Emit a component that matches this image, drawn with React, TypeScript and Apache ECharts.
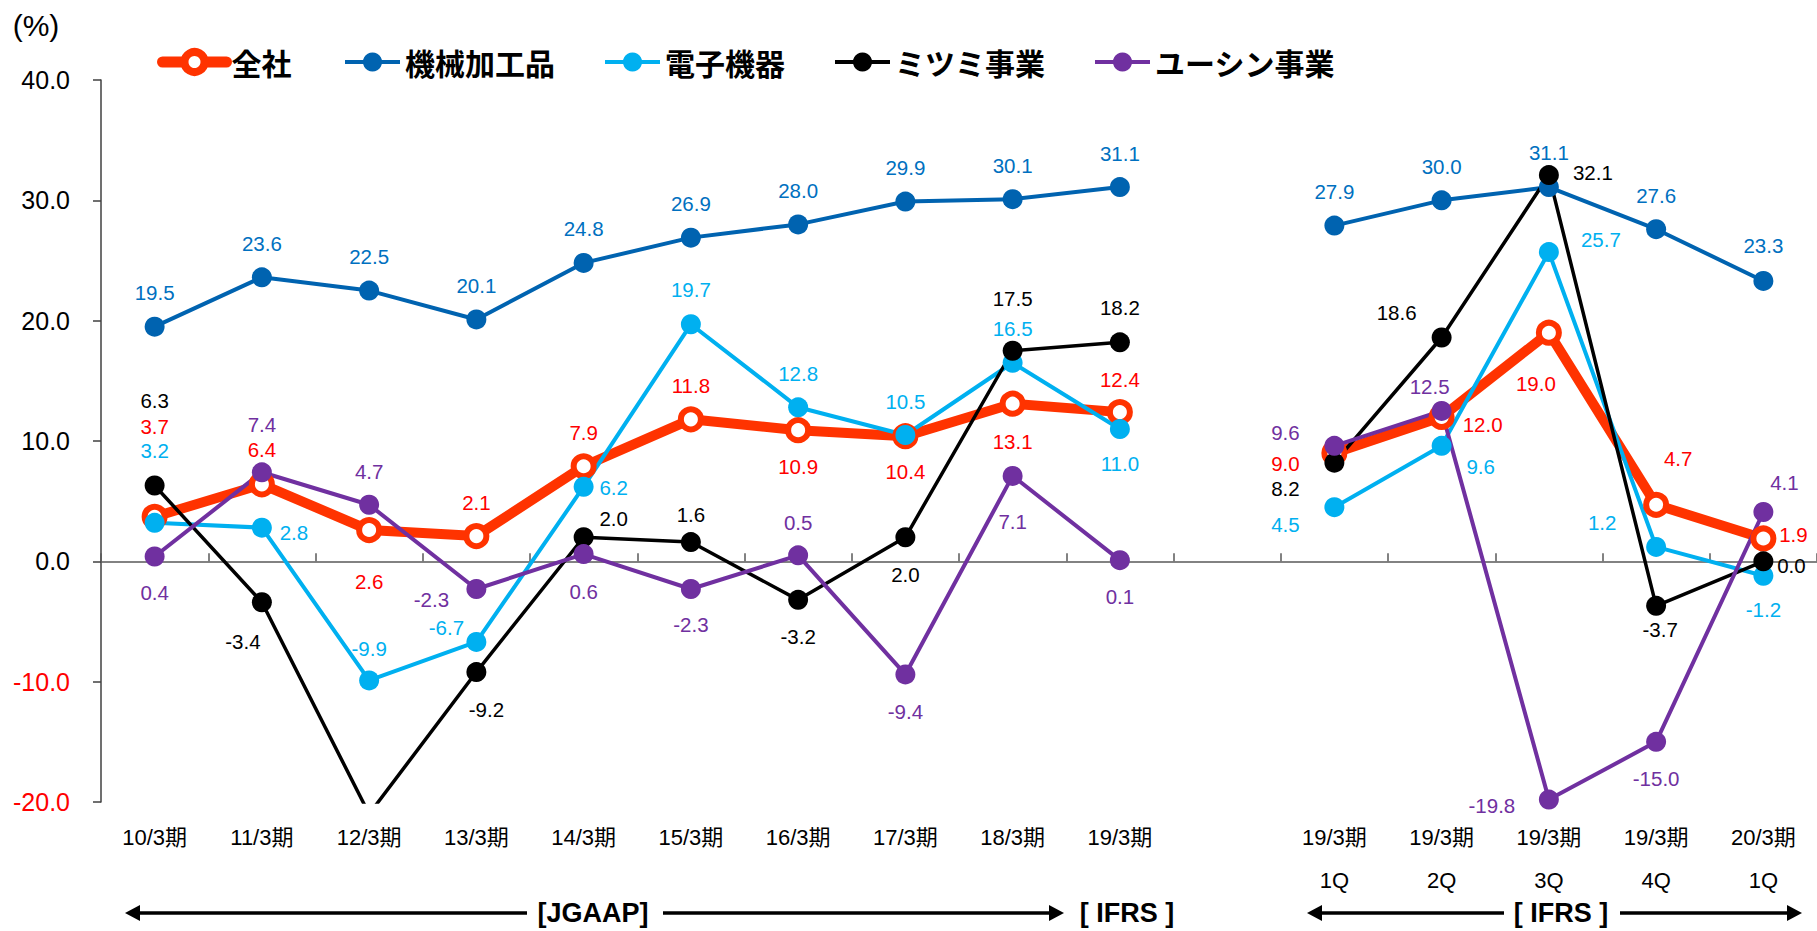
import React, { useEffect, useRef } from 'react';
import * as echarts from 'echarts';

const categories = [
  '10/3期', '11/3期', '12/3期', '13/3期', '14/3期', '15/3期', '16/3期', '17/3期', '18/3期', '19/3期',
  '',
  '19/3期\n1Q', '19/3期\n2Q', '19/3期\n3Q', '19/3期\n4Q', '20/3期\n1Q',
];

const seriesNames = ['全社', '機械加工品', '電子機器', 'ミツミ事業', 'ユーシン事業'];

const zensha = [3.7, 6.4, 2.6, 2.1, 7.9, 11.8, 10.9, 10.4, 13.1, 12.4, null, 9.0, 12.0, 19.0, 4.7, 1.9];
const kikai = [19.5, 23.6, 22.5, 20.1, 24.8, 26.9, 28.0, 29.9, 30.1, 31.1, null, 27.9, 30.0, 31.1, 27.6, 23.3];
const denshi = [3.2, 2.8, -9.9, -6.7, 6.2, 19.7, 12.8, 10.5, 16.5, 11.0, null, 4.5, 9.6, 25.7, 1.2, -1.2];
const mitsumi = [6.3, -3.4, -21.0, -9.2, 2.0, 1.6, -3.2, 2.0, 17.5, 18.2, null, 8.2, 18.6, 32.1, -3.7, 0.0];
const ushin = [0.4, 7.4, 4.7, -2.3, 0.6, -2.3, 0.5, -9.4, 7.1, 0.1, null, 9.6, 12.5, -19.8, -15.0, 4.1];

const yMin = -20;
const yMax = 40;
const yInterval = 10;

// label offsets (px) from each marker centre; null = no label
type Off = [number, number] | null;
const zenshaLabelOff: Off[] = [
  [0, -90], [0, -35], [0, 51], [0, -34], [0, -34], [0, -34], [0, 36], [0, 35], [0, 38], [0, -33],
  null, [-49, 10], [41, 8], [-13, 51], [22, -46], [30, -4],
];
const kikaiLabelOff: Off[] = [
  [0, -34], [0, -34], [0, -34], [0, -34], [0, -34], [0, -34], [0, -34], [0, -34], [0, -34], [0, -34],
  null, [0, -34], [0, -34], [0, -35], [0, -34], [0, -35],
];
const denshiLabelOff: Off[] = [
  [0, -72], [32, 5], [0, -32], [-30, -14], [30, 1], [0, -35], [0, -34], [0, -33], [0, -34], [0, 35],
  null, [-49, 17], [39, 21], [52, -13], [-54, -24], [0, 34],
];
const mitsumiLabelOff: Off[] = [
  [0, -85], [-19, 39], null, [10, 37], [30, -19], [0, -28], [0, 37], [0, 37], [0, -52], [0, -35],
  null, [-49, 26], [-45, -25], [44, -3], [4, 24], [28, 4],
];
const ushinLabelOff: Off[] = [
  [0, 36], [0, -48], [0, -33], [-45, 10], [0, 37], [0, 35], [0, -33], [0, 37], [0, 46], [0, 36],
  null, [-49, -13], [-12, -24], [-57, 6], [0, 37], [21, -29],
];

const NUM_FONT = '"Liberation Sans", Arial, "Noto Sans CJK JP", sans-serif';
const CJK_FONT = '"Noto Sans CJK JP", "Liberation Sans", sans-serif';

function buildData(values: (number | null)[], offs: Off[]) {
  return values.map((v, i) => {
    if (v === null) return '-';
    const o = offs[i];
    return o ? { value: v, label: { offset: o } } : { value: v, label: { show: false } };
  });
}

function lineSeries(
  name: string,
  values: (number | null)[],
  offs: Off[],
  lineColor: string,
  labelColor: string,
  lineWidth: number,
) {
  return {
    type: 'line',
    name,
    data: buildData(values, offs),
    symbol: 'circle',
    symbolSize: 20,
    clip: true,
    connectNulls: false,
    lineStyle: { color: lineColor, width: lineWidth },
    itemStyle: { color: lineColor },
    label: {
      show: true,
      position: 'inside',
      color: labelColor,
      fontSize: 20.5,
      fontFamily: NUM_FONT,
      formatter: (p: any) => Number(p.value).toFixed(1),
    },
    emphasis: { disabled: true },
  };
}

function arrowHead(tipX: number, y: number, dir: number) {
  return {
    type: 'polygon',
    shape: { points: [[tipX, y], [tipX - dir * 15, y - 8], [tipX - dir * 15, y + 8]] },
    style: { fill: '#000' },
  };
}

function hLine(x1: number, x2: number, y: number) {
  return {
    type: 'line',
    shape: { x1, y1: y, x2, y2: y },
    style: { stroke: '#000', lineWidth: 3.5 },
  };
}

function bottomText(text: string, x: number, y: number) {
  return {
    type: 'text',
    x,
    y,
    style: {
      text,
      fill: '#000',
      fontSize: 27,
      fontWeight: 'bold',
      fontFamily: NUM_FONT,
      align: 'center',
      verticalAlign: 'middle',
    },
  };
}

export default function App() {
  const ref = useRef<HTMLDivElement>(null);

  useEffect(() => {
    if (!ref.current) return;
    const chart = echarts.init(ref.current, null, { renderer: 'svg' });
    const rowY = 913;

    const option: any = {
      animation: false,
      backgroundColor: '#ffffff',
      grid: { left: 101, right: 0, top: 80, bottom: 129, containLabel: false },
      legend: [
        {
          data: [seriesNames[0]],
          left: 157,
          top: 46,
          padding: 0,
          itemWidth: 64,
          itemHeight: 25,
          itemStyle: { color: '#ffffff', borderColor: '#FF3300', borderWidth: 8 },
          lineStyle: { color: '#FF3300', width: 11, cap: 'round' },
          textStyle: { fontSize: 30, fontWeight: 'bold', fontFamily: CJK_FONT, color: '#000', lineHeight: 32 },
          selectedMode: false,
        },
        {
          data: seriesNames.slice(1),
          left: 343,
          top: 46,
          padding: 0,
          itemWidth: 55,
          itemHeight: 24,
          itemGap: 48,
          itemStyle: { borderWidth: 0 },
          lineStyle: { width: 4 },
          textStyle: { fontSize: 30, fontWeight: 'bold', fontFamily: CJK_FONT, color: '#000', lineHeight: 32 },
          selectedMode: false,
        },
      ],
      xAxis: [
        {
          type: 'category',
          data: categories,
          position: 'bottom',
          boundaryGap: true,
          axisLine: { show: true, onZero: true, lineStyle: { color: '#595959', width: 1.5 } },
          axisTick: { show: true, inside: true, length: 8, interval: 0, lineStyle: { color: '#595959', width: 1.5 } },
          axisLabel: { show: false },
          splitLine: { show: false },
        },
        {
          type: 'category',
          data: categories,
          position: 'bottom',
          boundaryGap: true,
          axisLine: { show: false, onZero: false },
          axisTick: { show: false },
          axisLabel: {
            show: true,
            interval: 0,
            margin: 14,
            fontSize: 22,
            lineHeight: 43,
            color: '#000',
            fontFamily: NUM_FONT,
          },
          splitLine: { show: false },
        },
      ],
      yAxis: {
        type: 'value',
        min: yMin,
        max: yMax,
        interval: yInterval,
        axisLine: { show: true, onZero: false, lineStyle: { color: '#404040', width: 1.5 } },
        axisTick: { show: true, length: 8, lineStyle: { color: '#404040', width: 1.5 } },
        splitLine: { show: false },
        axisLabel: {
          margin: 31,
          fontSize: 25,
          fontFamily: NUM_FONT,
          formatter: (v: number) => Number(v).toFixed(1),
          color: (v: any) => (Number(v) < 0 ? '#FF0000' : '#000000'),
        },
      },
      series: [
        {
          ...lineSeries(seriesNames[0], zensha, zenshaLabelOff, '#FF3300', '#FF0000', 10),
          itemStyle: { color: '#ffffff', borderColor: '#FF3300', borderWidth: 6 },
        },
        lineSeries(seriesNames[1], kikai, kikaiLabelOff, '#0063B0', '#0070C0', 4),
        lineSeries(seriesNames[2], denshi, denshiLabelOff, '#00B0F0', '#00B0F0', 4),
        lineSeries(seriesNames[3], mitsumi, mitsumiLabelOff, '#000000', '#000000', 3.5),
        lineSeries(seriesNames[4], ushin, ushinLabelOff, '#7030A0', '#7030A0', 4),
      ],
      graphic: [
        {
          type: 'text',
          x: 36,
          y: 25,
          style: {
            text: '(%)',
            fill: '#000',
            fontSize: 30,
            fontFamily: NUM_FONT,
            align: 'center',
            verticalAlign: 'middle',
          },
        },
        hLine(135, 527, rowY),
        arrowHead(125, rowY, -1),
        bottomText('[JGAAP]', 593, rowY),
        hLine(663, 1054, rowY),
        arrowHead(1064, rowY, 1),
        bottomText('[ IFRS ]', 1127, rowY),
        hLine(1317, 1504, rowY),
        arrowHead(1307, rowY, -1),
        bottomText('[ IFRS ]', 1561, rowY),
        hLine(1620, 1792, rowY),
        arrowHead(1802, rowY, 1),
      ],
    };

    chart.setOption(option);
    return () => chart.dispose();
  }, []);

  return (
    <div
      ref={ref}
      style={{ position: 'fixed', left: 0, top: 0, width: 1817, height: 931, background: '#ffffff' }}
    />
  );
}
